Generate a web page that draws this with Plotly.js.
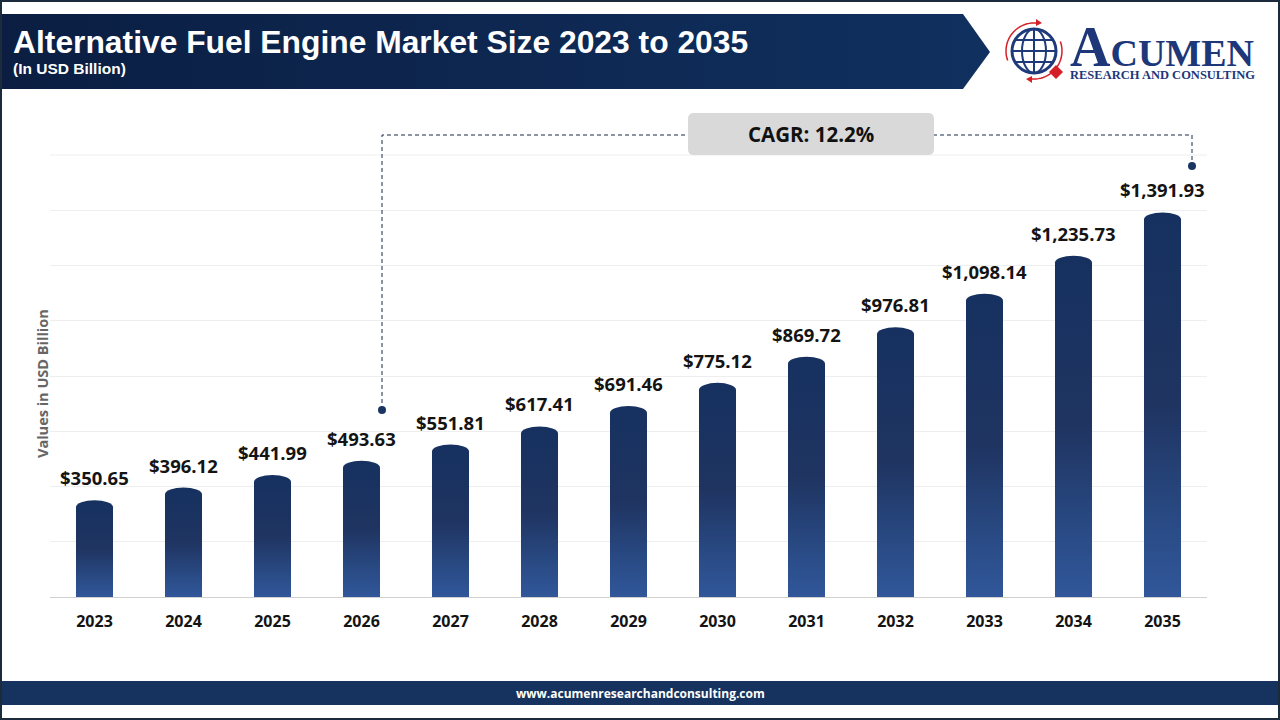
<!DOCTYPE html>
<html>
<head>
<meta charset="utf-8">
<script src="https://cdn.plot.ly/plotly-3.0.1.min.js"></script>
<style>
html,body{margin:0;padding:0;background:#fff;}
#chart{width:1280px;height:720px;}
</style>
</head>
<body>
<div id="chart"></div>
<script>
// ---- data ----
const years = ['2023','2024','2025','2026','2027','2028','2029','2030','2031','2032','2033','2034','2035'];
const marketSize = [350.65, 396.12, 441.99, 493.63, 551.81, 617.41, 691.46, 775.12, 869.72, 976.81, 1098.14, 1235.73, 1391.93];
const cagrText = 'CAGR: 12.2%';
const titleText = 'Alternative Fuel Engine Market Size 2023 to 2035';
const subtitleText = '(In USD Billion)';
const yAxisTitle = 'Values in USD Billion';
const footerText = 'www.acumenresearchandconsulting.com';

// ---- geometry helpers (pixel -> paper) ----
const L = 50, T = 155, W = 1157, H = 442;
const X = p => (p - L) / W;
const Y = p => 1 - (p - T) / H;

function arcPath(cx, cy, r, a0, a1, n) {
  let s = '';
  for (let i = 0; i <= n; i++) {
    const a = (a0 + (a1 - a0) * i / n) * Math.PI / 180;
    const px = cx + r * Math.cos(a), py = cy - r * Math.sin(a);
    s += (i === 0 ? 'M' : 'L') + X(px).toFixed(5) + ',' + Y(py).toFixed(5);
  }
  return s;
}
function polyPath(pts) {
  return pts.map((p, i) => (i === 0 ? 'M' : 'L') + X(p[0]).toFixed(5) + ',' + Y(p[1]).toFixed(5)).join('') + 'Z';
}
function roundRectPath(x0, y0, x1, y1, r) {
  const P = (x, y) => X(x).toFixed(5) + ',' + Y(y).toFixed(5);
  return 'M' + P(x0 + r, y0) + 'L' + P(x1 - r, y0) + 'Q' + P(x1, y0) + ' ' + P(x1, y0 + r) +
    'L' + P(x1, y1 - r) + 'Q' + P(x1, y1) + ' ' + P(x1 - r, y1) +
    'L' + P(x0 + r, y1) + 'Q' + P(x0, y1) + ' ' + P(x0, y1 - r) +
    'L' + P(x0, y0 + r) + 'Q' + P(x0, y0) + ' ' + P(x0 + r, y0) + 'Z';
}

const fmt = v => '$' + v.toLocaleString('en-US', {minimumFractionDigits: 2, maximumFractionDigits: 2});

const trace = {
  type: 'bar',
  x: years,
  y: marketSize,
  marker: {color: '#1b3563', line: {width: 0}},
  hoverinfo: 'skip'
};

const navy = '#1b3563';
const shapes = [
  // header banner
  {type: 'path', xref: 'paper', yref: 'paper', path: polyPath([[0,14],[963,14],[990,52],[963,89],[0,89]]),
   fillcolor: '#0f2b57', line: {width: 0}},
  // footer band
  {type: 'rect', xref: 'paper', yref: 'paper', x0: X(0), x1: X(1280), y0: Y(705), y1: Y(681),
   fillcolor: '#15335e', line: {width: 0}},
  // top gridline of the plot area
  {type: 'line', xref: 'paper', yref: 'paper', x0: 0, x1: 1, y0: 1, y1: 1, layer: 'below',
   line: {color: '#eeeeee', width: 1}},
  // CAGR dashed connector
  {type: 'path', xref: 'paper', yref: 'paper',
   path: 'M' + X(382) + ',' + Y(410) + 'V' + Y(135) + 'H' + X(1192) + 'V' + Y(166),
   line: {color: '#1d2b44', width: 1, dash: '4px,3px'}},
  {type: 'circle', xref: 'paper', yref: 'paper', x0: X(378), x1: X(386), y0: Y(414), y1: Y(406),
   fillcolor: navy, line: {width: 0}},
  {type: 'circle', xref: 'paper', yref: 'paper', x0: X(1188), x1: X(1196), y0: Y(170), y1: Y(162),
   fillcolor: navy, line: {width: 0}},
  // CAGR box
  {type: 'path', xref: 'paper', yref: 'paper', path: roundRectPath(688, 113, 934, 155, 6),
   fillcolor: '#d9d9d9', line: {width: 0}},
  // logo globe
  {type: 'circle', xref: 'paper', yref: 'paper', x0: X(1012), x1: X(1056), y0: Y(73), y1: Y(29),
   fillcolor: '#ffffff', line: {color: '#1f3a7a', width: 3}},
  {type: 'circle', xref: 'paper', yref: 'paper', x0: X(1022), x1: X(1046), y0: Y(73), y1: Y(29),
   line: {color: '#1f3a7a', width: 2}},
  {type: 'line', xref: 'paper', yref: 'paper', x0: X(1034), x1: X(1034), y0: Y(73), y1: Y(29),
   line: {color: '#1f3a7a', width: 2}},
  {type: 'line', xref: 'paper', yref: 'paper', x0: X(1012), x1: X(1056), y0: Y(51), y1: Y(51),
   line: {color: '#1f3a7a', width: 2}},
  {type: 'line', xref: 'paper', yref: 'paper', x0: X(1015), x1: X(1053), y0: Y(40), y1: Y(40),
   line: {color: '#1f3a7a', width: 2}},
  {type: 'line', xref: 'paper', yref: 'paper', x0: X(1015), x1: X(1053), y0: Y(62), y1: Y(62),
   line: {color: '#1f3a7a', width: 2}},
  // red arcs
  {type: 'path', xref: 'paper', yref: 'paper', path: arcPath(1034, 51, 28, 85, 200, 24),
   line: {color: '#d42027', width: 1.5}},
  {type: 'path', xref: 'paper', yref: 'paper', path: arcPath(1034, 51, 28, -95, 20, 24),
   line: {color: '#d42027', width: 1.5}},
  {type: 'path', xref: 'paper', yref: 'paper', path: polyPath([[1036,19],[1042,23],[1036,26]]),
   fillcolor: '#d42027', line: {width: 0}},
  {type: 'path', xref: 'paper', yref: 'paper', path: polyPath([[1032,76],[1026,79],[1032,83]]),
   fillcolor: '#d42027', line: {width: 0}},
  // red diamond
  {type: 'path', xref: 'paper', yref: 'paper', path: polyPath([[1056,65],[1063,72],[1056,79],[1049,72]]),
   fillcolor: '#d42027', line: {width: 0}},
  // frame border
  {type: 'rect', xref: 'paper', yref: 'paper', x0: X(1), x1: X(1279), y0: Y(719), y1: Y(1),
   line: {color: '#1c2b3c', width: 2}}
];

const annotations = [];
// value labels (x given as category index)
marketSize.forEach((v, i) => {
  annotations.push({
    x: i, y: v, xref: 'x', yref: 'y', text: fmt(v),
    showarrow: false, yanchor: 'bottom', yshift: 8,
    font: {family: 'Open Sans', size: 18.5, color: '#141414', weight: 'bold'}
  });
});
annotations.push(
  {xref: 'paper', yref: 'paper', x: X(11), y: Y(42), xanchor: 'left', yanchor: 'middle', showarrow: false,
   text: titleText, font: {family: 'Liberation Sans, Arial', size: 31.8, color: '#ffffff', weight: 'bold'}},
  {xref: 'paper', yref: 'paper', x: X(11), y: Y(68), xanchor: 'left', yanchor: 'middle', showarrow: false,
   text: subtitleText, font: {family: 'Liberation Sans, Arial', size: 15.5, color: '#ffffff', weight: 'bold'}},
  {xref: 'paper', yref: 'paper', x: X(811), y: Y(134), xanchor: 'center', yanchor: 'middle', showarrow: false,
   text: cagrText, font: {family: 'Open Sans', size: 20.5, color: '#111111', weight: 'bold'}},
  {xref: 'paper', yref: 'paper', x: X(42), y: Y(384), xanchor: 'center', yanchor: 'middle', showarrow: false,
   textangle: -90, text: yAxisTitle, font: {family: 'Open Sans', size: 14.5, color: '#666666', weight: 'bold'}},
  {xref: 'paper', yref: 'paper', x: X(640), y: Y(693), xanchor: 'center', yanchor: 'middle', showarrow: false,
   text: footerText, font: {family: 'Open Sans', size: 12, color: '#ffffff', weight: 'bold'}},
  {xref: 'paper', yref: 'paper', x: X(1068), y: Y(47), xanchor: 'left', yanchor: 'middle', showarrow: false,
   text: 'A<span style="font-size:38px">CUMEN</span>',
   font: {family: 'Liberation Serif, Times New Roman', size: 56, color: '#1d3779', weight: 'bold'}},
  {xref: 'paper', yref: 'paper', x: X(1068), y: Y(75), xanchor: 'left', yanchor: 'middle', showarrow: false,
   text: 'RESEARCH AND CONSULTING',
   font: {family: 'Liberation Serif, Times New Roman', size: 12.5, color: '#1d3779', weight: 'bold'}}
);

const layout = {
  width: 1280, height: 720,
  margin: {l: L, r: 1280 - L - W, t: T, b: 720 - T - H, pad: 0},
  paper_bgcolor: '#ffffff', plot_bgcolor: '#ffffff',
  font: {family: 'Open Sans', color: '#141414'},
  showlegend: false,
  bargap: 0.584,
  xaxis: {
    type: 'category', range: [-0.5, years.length - 0.5], autorange: false,
    showline: true, linecolor: '#d0d0d0', linewidth: 1,
    ticks: '', showgrid: false, ticklabelstandoff: 10,
    tickfont: {family: 'Open Sans', size: 16, color: '#141414', weight: 'bold'}
  },
  yaxis: {
    range: [0, 1600], autorange: false, dtick: 200, showticklabels: false, ticks: '',
    gridcolor: '#eeeeee', gridwidth: 1, zeroline: false, showline: false
  },
  shapes: shapes,
  annotations: annotations
};

Plotly.newPlot('chart', [trace], layout, {displayModeBar: false, staticPlot: true}).then(gd => {
  const svgNS = 'http://www.w3.org/2000/svg';
  const defs = gd.querySelector('.main-svg defs');
  function addGrad(id, horiz, stops) {
    const g = document.createElementNS(svgNS, 'linearGradient');
    g.setAttribute('id', id);
    g.setAttribute('x1', '0'); g.setAttribute('y1', '0');
    g.setAttribute('x2', horiz ? '1' : '0'); g.setAttribute('y2', horiz ? '0' : '1');
    stops.forEach(s => {
      const st = document.createElementNS(svgNS, 'stop');
      st.setAttribute('offset', s[0]); st.setAttribute('stop-color', s[1]);
      g.appendChild(st);
    });
    defs.appendChild(g);
  }
  addGrad('barGrad', false, [[0, '#163160'], [0.5, '#1f3461'], [0.8, '#294a84'], [1, '#31579a']]);
  addGrad('bannerGrad', true, [[0, '#0b1e42'], [1, '#10305f']]);
  gd.querySelectorAll('.barlayer .point path').forEach(p => {
    const b = p.getBBox();
    const rx = b.width / 2, ry = Math.min(7, b.height / 2);
    const d = 'M' + b.x + ',' + (b.y + b.height) + 'V' + (b.y + ry) +
      'A' + rx + ',' + ry + ' 0 0 1 ' + (b.x + b.width) + ',' + (b.y + ry) +
      'V' + (b.y + b.height) + 'Z';
    p.setAttribute('d', d);
    p.style.fill = 'url(#barGrad)';
  });
  // banner is the first shape path in the above-layer
  const sp = gd.querySelectorAll('.layer-above .shapelayer path');
  if (sp.length) {
    sp[0].style.fill = 'url(#bannerGrad)';
  }
});
</script>
</body>
</html>
